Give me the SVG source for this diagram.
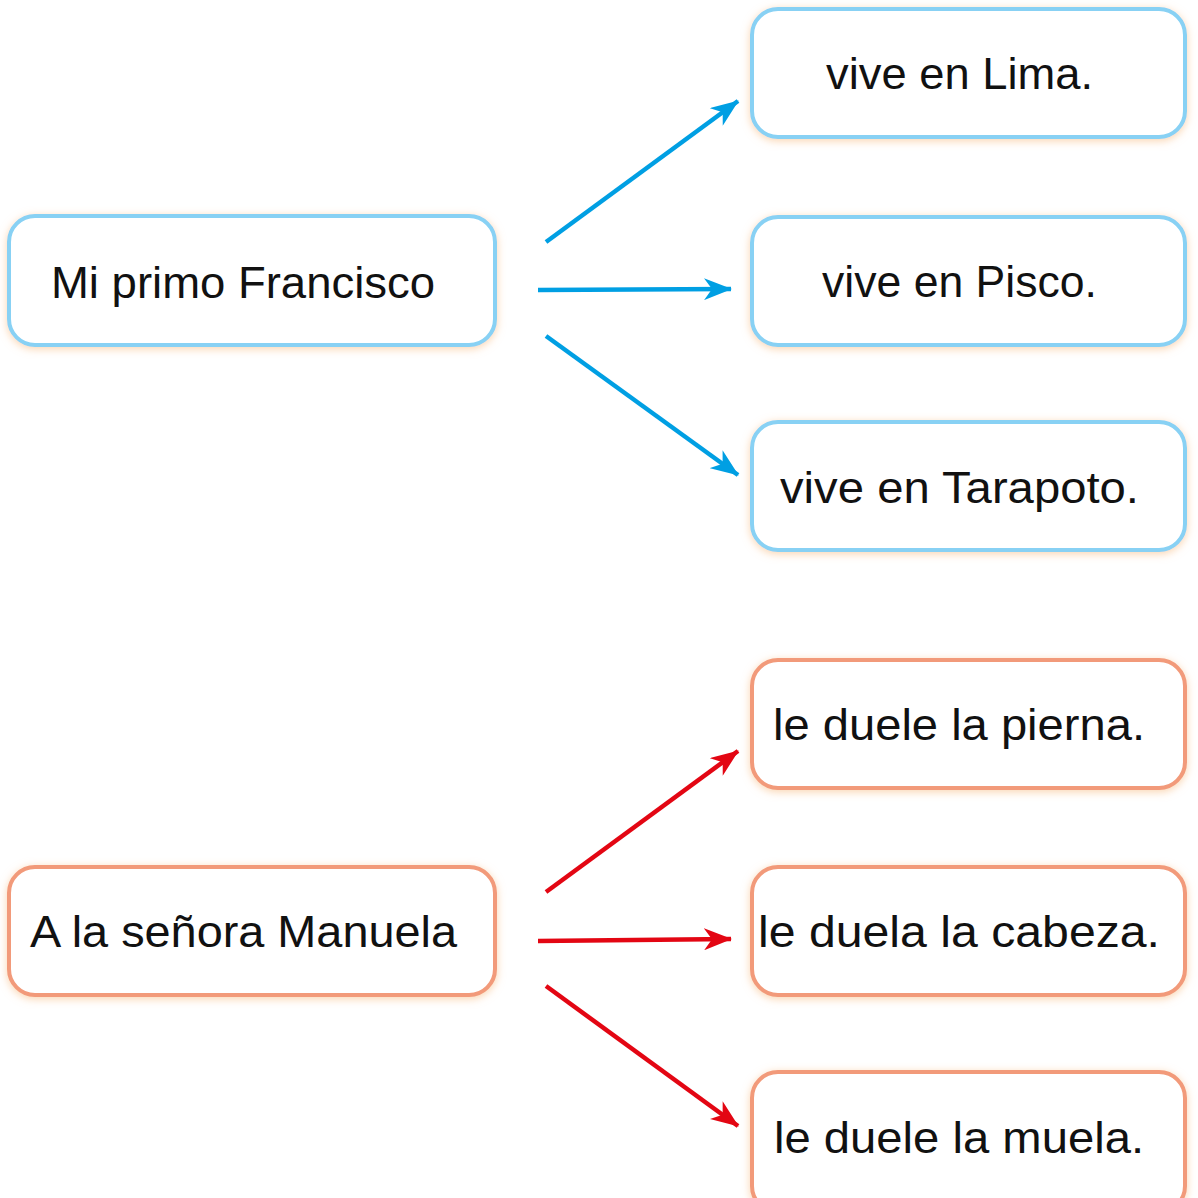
<svg xmlns="http://www.w3.org/2000/svg" width="1198" height="1198" viewBox="0 0 1198 1198">
<defs>
<filter id="glow" x="-10%" y="-20%" width="120%" height="140%">
<feDropShadow dx="0" dy="2" stdDeviation="4" flood-color="#f7b77a" flood-opacity="0.6"/>
</filter>
<marker id="ab" markerUnits="userSpaceOnUse" markerWidth="30" markerHeight="22" refX="27" refY="11" orient="auto" viewBox="0 0 30 22">
<path d="M0,0 L28,11 L0,22 L8,11 Z" fill="#009fe3"/>
</marker>
<marker id="ar" markerUnits="userSpaceOnUse" markerWidth="30" markerHeight="22" refX="27" refY="11" orient="auto" viewBox="0 0 30 22">
<path d="M0,0 L28,11 L0,22 L8,11 Z" fill="#e30613"/>
</marker>
</defs>
<style>
.bb{fill:#fff;stroke:#88d1f4;stroke-width:4;filter:url(#glow)}
.ob{fill:#fff;stroke:#f29a7a;stroke-width:4;filter:url(#glow)}
text{font-family:"Liberation Sans",Arial,sans-serif;font-size:45px;fill:#111}
.cb{stroke:#009fe3;stroke-width:4.5;fill:none;marker-end:url(#ab)}
.cr{stroke:#e30613;stroke-width:4.5;fill:none;marker-end:url(#ar)}
</style>
<rect width="1198" height="1198" fill="#fff"/>
<g id="n-francisco"><rect class="bb" x="9" y="216" width="486" height="129" rx="26"/><text x="51" y="298" textLength="384" lengthAdjust="spacingAndGlyphs">Mi primo Francisco</text></g>
<g id="n-lima"><rect class="bb" x="752" y="9" width="433" height="128" rx="26"/><text x="826" y="89" textLength="267" lengthAdjust="spacingAndGlyphs">vive en Lima.</text></g>
<g id="n-pisco"><rect class="bb" x="752" y="217" width="433" height="128" rx="26"/><text x="822" y="297" textLength="275" lengthAdjust="spacingAndGlyphs">vive en Pisco.</text></g>
<g id="n-tarapoto"><rect class="bb" x="752" y="422" width="433" height="128" rx="26"/><text x="780" y="503" textLength="359" lengthAdjust="spacingAndGlyphs">vive en Tarapoto.</text></g>
<g id="n-manuela"><rect class="ob" x="9" y="867" width="486" height="128" rx="26"/><text x="30" y="947" textLength="427" lengthAdjust="spacingAndGlyphs">A la señora Manuela</text></g>
<g id="n-pierna"><rect class="ob" x="752" y="660" width="433" height="128" rx="26"/><text x="773" y="740" textLength="372" lengthAdjust="spacingAndGlyphs">le duele la pierna.</text></g>
<g id="n-cabeza"><rect class="ob" x="752" y="867" width="433" height="128" rx="26"/><text x="758" y="947" textLength="402" lengthAdjust="spacingAndGlyphs">le duela la cabeza.</text></g>
<g id="n-muela"><rect class="ob" x="752" y="1072" width="433" height="140" rx="26"/><text x="774" y="1153" textLength="370" lengthAdjust="spacingAndGlyphs">le duele la muela.</text></g>
<g id="connectors">
<line class="cb" x1="546" y1="242" x2="738" y2="101"/>
<line class="cb" x1="538" y1="290" x2="731" y2="289"/>
<line class="cb" x1="546" y1="336" x2="738" y2="475"/>
<line class="cr" x1="546" y1="892" x2="738" y2="751"/>
<line class="cr" x1="538" y1="941" x2="731" y2="939"/>
<line class="cr" x1="546" y1="986" x2="738" y2="1126"/>
</g>
</svg>
